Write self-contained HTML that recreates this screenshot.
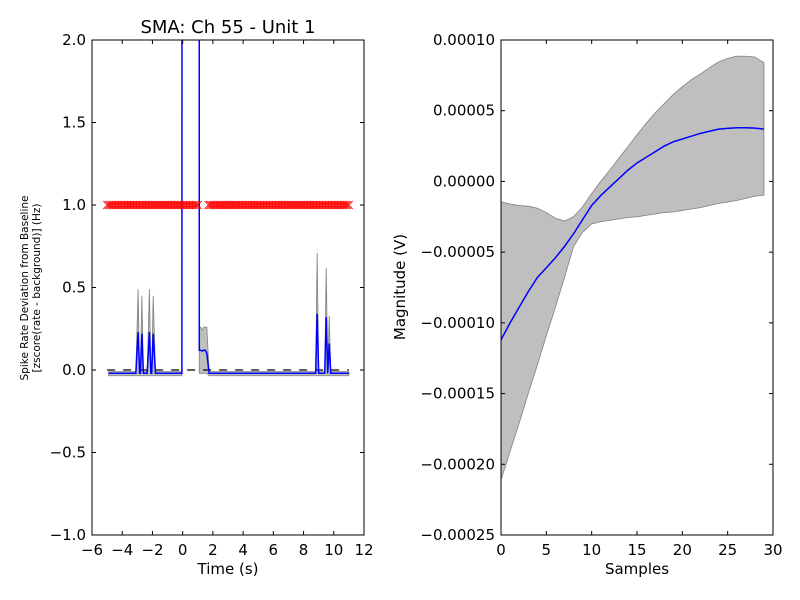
<!DOCTYPE html>
<html><head><meta charset="utf-8"><style>
html,body{margin:0;padding:0;background:#fff;}
svg{display:block;font-family:"DejaVu Sans","Liberation Sans",sans-serif;}
</style></head><body>
<svg id="c" width="800" height="600" viewBox="0 0 800 600"></svg>
<script>
// ---- Left chart data ----
const leftTimes = [-4.9,-3.1,-2.95,-2.85,-2.8,-2.7,-2.6,-2.35,-2.2,-2.1,-2.05,-1.95,-1.8,-0.05,0.0,1.05,1.1,1.2,1.3,1.4,1.5,1.6,1.75,8.8,8.9,9.0,9.4,9.5,9.6,9.7,9.8,11.0];
const leftMean  = [-0.02,-0.02,0.23,-0.02,-0.02,0.22,-0.02,-0.02,0.23,-0.02,-0.02,0.22,-0.02,-0.02,30,30,0.12,0.12,0.115,0.12,0.12,0.10,-0.02,-0.02,0.34,-0.02,-0.02,0.32,-0.02,0.16,-0.02,-0.02];
const leftUpper = [-0.01,-0.01,0.49,-0.01,-0.01,0.45,-0.01,-0.01,0.49,-0.01,-0.01,0.45,-0.01,-0.01,30,30,0.26,0.26,0.24,0.26,0.26,0.26,-0.01,-0.01,0.71,-0.01,-0.01,0.62,-0.01,0.33,-0.01,-0.01];
const leftLower = [-0.035,-0.035,-0.035,-0.035,-0.035,-0.035,-0.035,-0.035,-0.035,-0.035,-0.035,-0.035,-0.035,-0.035,30,30,-0.02,-0.02,-0.02,-0.02,-0.02,-0.02,-0.035,-0.035,-0.035,-0.035,-0.035,-0.035,-0.035,-0.035,-0.035,-0.035];
const markerRanges = [[-5.0,1.0],[1.7,11.0]];
const markerLevel = 1.0;
const leftXTicks = [-6,-4,-2,0,2,4,6,8,10,12];
const leftYTicks = [-1.0,-0.5,0.0,0.5,1.0,1.5,2.0];
// ---- Right chart data (units 1e-5 V) ----
const samples = [0,1,2,3,4,5,6,7,8,9,10,11,12,13,14,15,16,17,18,19,20,21,22,23,24,25,26,27,28,29];
const rightMean  = [-11.2,-10.0,-8.9,-7.8,-6.8,-6.1,-5.4,-4.6,-3.7,-2.7,-1.7,-1.0,-0.4,0.2,0.8,1.3,1.7,2.1,2.5,2.8,3.0,3.2,3.4,3.55,3.7,3.75,3.8,3.8,3.77,3.7];
const rightUpper = [-1.45,-1.6,-1.7,-1.75,-1.9,-2.2,-2.6,-2.8,-2.5,-1.8,-0.85,0.0,0.8,1.65,2.45,3.3,4.1,4.85,5.5,6.15,6.7,7.2,7.6,8.05,8.45,8.7,8.86,8.85,8.8,8.4];
const rightLower = [-21.1,-19.1,-17.1,-15.0,-13.0,-10.9,-8.9,-6.8,-4.6,-3.6,-3.0,-2.85,-2.75,-2.65,-2.55,-2.5,-2.4,-2.3,-2.2,-2.15,-2.05,-1.95,-1.85,-1.7,-1.55,-1.45,-1.35,-1.2,-1.05,-0.97];
const rightXTicks = [0,5,10,15,20,25,30];
const rightYTicks = [-25,-20,-15,-10,-5,0,5,10];
const rightYLabels = ["\u22120.00025","\u22120.00020","\u22120.00015","\u22120.00010","\u22120.00005","0.00000","0.00005","0.00010"];

const NS="http://www.w3.org/2000/svg";
const svg=document.getElementById('c');
function mk(tag,attrs,parent){const e=document.createElementNS(NS,tag);for(const k in attrs)e.setAttribute(k,attrs[k]);(parent||svg).appendChild(e);return e;}
function txt(s,attrs,parent){const e=mk('text',attrs,parent);e.textContent=s;return e;}
function fmt(v){return (v<0?"\u2212":"")+Math.abs(v).toFixed(1);}

const L={x0:92,x1:364,y0:40,y1:535,xmin:-6,xmax:12,ymin:-1,ymax:2};
const R={x0:501,x1:773,y0:40,y1:535,xmin:0,xmax:30,ymin:-25,ymax:10};
const lx=v=>L.x0+(v-L.xmin)/(L.xmax-L.xmin)*(L.x1-L.x0);
const ly=v=>L.y1-(v-L.ymin)/(L.ymax-L.ymin)*(L.y1-L.y0);
const rx=v=>R.x0+(v-R.xmin)/(R.xmax-R.xmin)*(R.x1-R.x0);
const ry=v=>R.y1-(v-R.ymin)/(R.ymax-R.ymin)*(R.y1-R.y0);

const defs=mk('defs',{});
const cpL=mk('clipPath',{id:'clipL'},defs);mk('rect',{x:L.x0,y:L.y0,width:L.x1-L.x0,height:L.y1-L.y0},cpL);
const cpR=mk('clipPath',{id:'clipR'},defs);mk('rect',{x:R.x0,y:R.y0,width:R.x1-R.x0,height:R.y1-R.y0},cpR);

// ---- Left plot ----
const gL=mk('g',{'clip-path':'url(#clipL)'});


let band='';
leftTimes.forEach((t,i)=>{band+=(i?'L':'M')+lx(t).toFixed(2)+','+ly(leftUpper[i]).toFixed(2);});
for(let i=leftTimes.length-1;i>=0;i--)band+='L'+lx(leftTimes[i]).toFixed(2)+','+ly(leftLower[i]).toFixed(2);
const bandL=mk('path',{d:band+'Z',fill:'#bfbfbf',stroke:'#808080','stroke-width':0.8},gL);


const dash=mk('line',{x1:lx(-5),x2:lx(11),y1:ly(0),y2:ly(0),stroke:'#000','stroke-width':1.2,'stroke-dasharray':'8,8'},gL);


let ml='';
leftTimes.forEach((t,i)=>{ml+=(i?'L':'M')+lx(t).toFixed(2)+','+ly(leftMean[i]).toFixed(2);});
const lineL=mk('path',{d:ml,fill:'none',stroke:'#0000ff','stroke-width':1.5},gL);


const gm=mk('g',{stroke:'#ff0000','stroke-width':0.8,fill:'none'},gL);


markerRanges.forEach(r=>{
  for(let k=0;r[0]+k*0.1<=r[1]+1e-9;k++){
    const t=r[0]+k*0.1;const cx=lx(t),cy=ly(markerLevel),s=4;
    mk('path',{d:`M${cx-s},${cy-s}L${cx+s},${cy+s}M${cx-s},${cy+s}L${cx+s},${cy-s}`},gm);
  }
});
const frL=mk('rect',{x:L.x0,y:L.y0,width:L.x1-L.x0,height:L.y1-L.y0,fill:'none',stroke:'#000','stroke-width':1});


leftXTicks.forEach(v=>{const x=lx(v);
  mk('line',{x1:x,x2:x,y1:L.y1,y2:L.y1-4,stroke:'#000'});mk('line',{x1:x,x2:x,y1:L.y0,y2:L.y0+4,stroke:'#000'});
  const t=txt(v<0?"\u2212"+Math.abs(v):String(v),{x:x,y:L.y1+20,'text-anchor':'middle','font-size':15});
  
  });
leftYTicks.forEach(v=>{const y=ly(v);
  mk('line',{x1:L.x0,x2:L.x0+4,y1:y,y2:y,stroke:'#000'});mk('line',{x1:L.x1,x2:L.x1-4,y1:y,y2:y,stroke:'#000'});
  const t=txt(fmt(v),{x:L.x0-6,y:y+5,'text-anchor':'end','font-size':15});
  
  });
const title=txt("SMA: Ch 55 - Unit 1",{x:228,y:33,'text-anchor':'middle','font-size':18});


const xt=txt("Time (s)",{x:228,y:574,'text-anchor':'middle','font-size':15});


const yt=mk('text',{transform:'translate(28,288) rotate(-90)','text-anchor':'middle','font-size':10.5});


mk('tspan',{x:0,dy:0},yt).textContent="Spike Rate Deviation from Baseline";
mk('tspan',{x:0,dy:12},yt).textContent="[zscore(rate - background)] (Hz)";

// ---- Right plot ----
const gR=mk('g',{'clip-path':'url(#clipR)'});


let rb='';
samples.forEach((s,i)=>{rb+=(i?'L':'M')+rx(s).toFixed(2)+','+ry(rightUpper[i]).toFixed(2);});
for(let i=samples.length-1;i>=0;i--)rb+='L'+rx(samples[i]).toFixed(2)+','+ry(rightLower[i]).toFixed(2);
const bandR=mk('path',{d:rb+'Z',fill:'#bfbfbf',stroke:'#808080','stroke-width':0.8},gR);


let rl='';
samples.forEach((s,i)=>{rl+=(i?'L':'M')+rx(s).toFixed(2)+','+ry(rightMean[i]).toFixed(2);});
const lineR=mk('path',{d:rl,fill:'none',stroke:'#0000ff','stroke-width':1.5},gR);


const frR=mk('rect',{x:R.x0,y:R.y0,width:R.x1-R.x0,height:R.y1-R.y0,fill:'none',stroke:'#000','stroke-width':1});


rightXTicks.forEach(v=>{const x=rx(v);
  mk('line',{x1:x,x2:x,y1:R.y1,y2:R.y1-4,stroke:'#000'});mk('line',{x1:x,x2:x,y1:R.y0,y2:R.y0+4,stroke:'#000'});
  const t=txt(String(v),{x:x,y:R.y1+20,'text-anchor':'middle','font-size':15});
  
  });
rightYTicks.forEach((v,i)=>{const y=ry(v);
  mk('line',{x1:R.x0,x2:R.x0+4,y1:y,y2:y,stroke:'#000'});mk('line',{x1:R.x1,x2:R.x1-4,y1:y,y2:y,stroke:'#000'});
  const t=txt(rightYLabels[i],{x:R.x0-6,y:y+5,'text-anchor':'end','font-size':15});
  
  });
const xt2=txt("Samples",{x:637,y:574,'text-anchor':'middle','font-size':15});


const yt2=txt("Magnitude (V)",{transform:'translate(405,287) rotate(-90)','text-anchor':'middle','font-size':15});


</script>
</body></html>
